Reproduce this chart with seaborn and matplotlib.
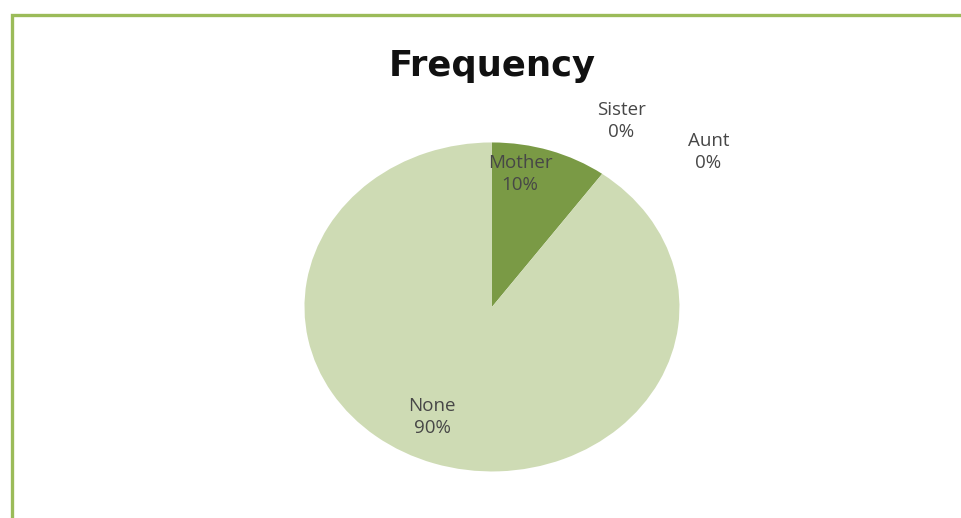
import matplotlib
matplotlib.use("Agg")
import matplotlib.pyplot as plt
from matplotlib.patches import Rectangle
import seaborn as sns

# Frequency of family history by relative
categories = ["Mother", "Sister", "Aunt", "None"]
values = [10, 0, 0, 90]
slice_colors = ["#7A9A45", "#9BBB59", "#C3D69B", "#CEDBB4"]

# label anchor positions in pie units (radius = 1)
label_pos = [(0.15, 0.81), (0.69, 1.13), (1.155, 0.94), (-0.32, -0.67)]

sns.set_theme(style="white")
plt.rcParams["font.family"] = ["Open Sans", "DejaVu Sans"]

fig = plt.figure(figsize=(9.62, 5.18), dpi=100)
fig.patch.set_facecolor("white")
ax = fig.add_axes([0, 0, 1, 1])

wedges, _ = ax.pie(values, colors=slice_colors, startangle=90,
                   counterclock=False, radius=1.0,
                   wedgeprops=dict(linewidth=0))

# stretch the pie horizontally like the chart area
ax.set_aspect("auto")
ax.set_xlim(-2.624, 2.507)
ax.set_ylim(-1.283, 1.866)
ax.axis("off")

total = sum(values)
for name, val, (x, y) in zip(categories, values, label_pos):
    ax.text(x, y, f"{name}\n{val / total * 100:.0f}%", ha="center", va="center",
            fontsize=13.5, color="#474747", linespacing=1.3)

fig.text(0.512, 0.873, "Frequency", ha="center", va="center",
         fontsize=25.5, fontweight="bold", color="#111111",
         family=["DejaVu Sans"])

# chart border (runs past the right and bottom edges)
fig.patches.append(Rectangle((11.5 / 962, -0.1), 1.2, 1 - 15.5 / 518 + 0.1,
                             transform=fig.transFigure, fill=False,
                             edgecolor="#9BBB59", linewidth=2.4, zorder=5))

fig.savefig("out.png", dpi=100, facecolor="white")
